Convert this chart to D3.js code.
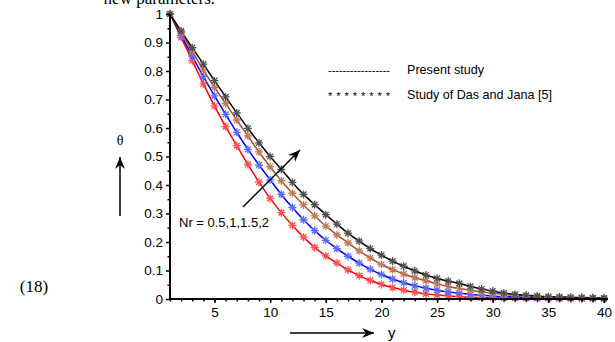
<!DOCTYPE html>
<html>
<head>
<meta charset="utf-8">
<script src="https://cdn.jsdelivr.net/npm/d3@7"></script>
<style>
  body { margin: 0; background: #fff; }
  text { font-family: "Liberation Sans", Arial, sans-serif; }
</style>
</head>
<body>
<script>
// y positions (x axis)
var posY = [1,2,3,4,5,6,7,8,9,10,11,12,13,14,15,16,17,18,19,20,
            21,22,23,24,25,26,27,28,29,30,31,32,33,34,35,36,37,38,39,40]

// theta for Nr = 0.5, 1, 1.5, 2
var thetaRed = [1,0.918,0.836,0.755,0.677,0.605,0.538,0.472,0.41,0.353,0.303,0.258,0.217,0.181,0.151,0.126,0.102,0.082,0.065,0.051,
                0.04,0.031,0.024,0.018,0.014,0.011,0.008,0.006,0.005,0.004,0.003,0.003,0.002,0.002,0.002,0.001,0.001,0.001,0.001,0.001]
var thetaBlue = [1,0.925,0.852,0.78,0.713,0.648,0.585,0.525,0.47,0.418,0.367,0.321,0.278,0.24,0.206,0.177,0.15,0.126,0.104,0.086,
                 0.07,0.057,0.046,0.038,0.031,0.025,0.02,0.016,0.013,0.01,0.008,0.007,0.005,0.004,0.004,0.003,0.003,0.002,0.002,0.002]
var thetaBrown = [1,0.935,0.869,0.803,0.743,0.686,0.628,0.572,0.516,0.464,0.415,0.371,0.33,0.292,0.256,0.225,0.197,0.169,0.144,0.121,
                  0.103,0.088,0.075,0.064,0.053,0.044,0.037,0.031,0.025,0.02,0.016,0.013,0.011,0.009,0.007,0.006,0.005,0.004,0.003,0.003]
var thetaBlack = [1,0.94,0.882,0.824,0.766,0.709,0.653,0.599,0.548,0.5,0.455,0.409,0.367,0.331,0.296,0.263,0.231,0.203,0.177,0.154,
                  0.133,0.115,0.099,0.084,0.072,0.063,0.055,0.044,0.035,0.028,0.021,0.016,0.013,0.01,0.008,0.007,0.006,0.005,0.004,0.003]

var seriesNames = ["Nr=0.5", "Nr=1", "Nr=1.5", "Nr=2"]
var lineColors = ["#ff0000", "#0000ff", "#a0522d", "#000000"]
var starColors = ["#ff5050", "#5a6cff", "#c07a5a", "#505050"]

var xMajorTicks = [5,10,15,20,25,30,35,40]
var yMajorTicks = [0,0.1,0.2,0.3,0.4,0.5,0.6,0.7,0.8,0.9,1]
var yMinorTicks = [0.05,0.15,0.25,0.35,0.45,0.55,0.65,0.75,0.85,0.95]

var legendLabels = ["Present study", "Study of Das and Jana [5]"]
var curveLabel = "Nr = 0.5,1,1.5,2"

var width = 615
var height = 342

var series = [thetaRed, thetaBlue, thetaBrown, thetaBlack].map(function(vals, i) {
    return { name: seriesNames[i], color: lineColors[i], star: starColors[i],
             points: posY.map(function(y, j) { return { y: y, t: vals[j] } }) }
})

var escalaX = d3.scaleLinear().domain([1, 40]).range([170, 604])
var escalaY = d3.scaleLinear().domain([0, 1]).range([299, 14])

var svg = d3.select("body")
    .append("svg")
    .attr("width", width)
    .attr("height", height)

// arrow head
svg.append("defs").append("marker")
    .attr("id", "flecha")
    .attr("viewBox", "-12 -6 14 12")
    .attr("refX", 0).attr("refY", 0)
    .attr("markerWidth", 14).attr("markerHeight", 12)
    .attr("markerUnits", "userSpaceOnUse")
    .attr("orient", "auto")
    .append("path")
    .attr("d", "M0,0 L-12,-5 L-8,0 L-12,5 Z")
    .attr("fill", "#000")

// partial text of the page above
svg.append("text")
    .attr("x", 215).attr("y", 4)
    .attr("text-anchor", "end")
    .style("font-family", "'Liberation Serif', serif")
    .style("font-size", "17px")
    .text("new parameters.")

svg.append("text")
    .attr("x", 34).attr("y", 292)
    .attr("text-anchor", "middle")
    .style("font-family", "'Liberation Serif', serif")
    .style("font-size", "17px")
    .text("(18)")

// curves
var linea = d3.line()
    .x(d => escalaX(d.y))
    .y(d => escalaY(d.t))
    .curve(d3.curveMonotoneX)

svg.selectAll(".curva")
    .data(series)
    .enter()
    .append("path")
    .attr("class", "curva")
    .attr("d", d => linea(d.points))
    .attr("fill", "none")
    .attr("stroke", d => d.color)
    .attr("stroke-width", 1.5)

// asterisks
var asterisco = "M0,-4V4M-4,0H4M-2.9,-2.9L2.9,2.9M-2.9,2.9L2.9,-2.9"
series.forEach(function(s) {
    svg.append("g")
        .selectAll("path")
        .data(s.points)
        .enter()
        .append("path")
        .attr("transform", d => "translate(" + escalaX(d.y) + "," + escalaY(d.t) + ")")
        .attr("d", asterisco)
        .attr("fill", "none")
        .attr("stroke", s.star)
        .attr("stroke-width", 1.3)
})

// axes
var ejeY = d3.axisLeft(escalaY)
    .tickValues(yMajorTicks)
    .tickSize(4)
    .tickPadding(3)
    .tickFormat(d3.format("~g"))
var ejeYmenor = d3.axisLeft(escalaY)
    .tickValues(yMinorTicks)
    .tickSize(2.5)
    .tickFormat("")

var gy = svg.append("g").attr("transform", "translate(170,0)").call(ejeY)
svg.append("g").attr("transform", "translate(170,0)").call(ejeYmenor)
    .select(".domain").remove()

var ejeX = d3.axisBottom(escalaX)
    .tickValues(xMajorTicks)
    .tickSize(4)
    .tickPadding(4)
var ejeXmenor = d3.axisBottom(escalaX)
    .tickValues(posY)
    .tickSize(2.5)
    .tickFormat("")

var gx = svg.append("g").attr("transform", "translate(0,299)").call(ejeX)
svg.append("g").attr("transform", "translate(0,299)").call(ejeXmenor)
    .select(".domain").remove()

svg.selectAll(".domain").attr("stroke-width", 2).attr("stroke", "#000")
svg.selectAll(".tick line").attr("stroke-width", 1.5)
gx.select(".domain").attr("d", "M169,0H608")
gy.select(".domain").attr("d", "M0,300V14")
svg.selectAll(".tick text")
    .style("font-family", "'Liberation Sans', Arial, sans-serif")
    .style("font-size", "13.5px")
    .attr("fill", "#000")

// legend
svg.append("text")
    .attr("x", 328).attr("y", 74)
    .attr("textLength", 62)
    .attr("lengthAdjust", "spacing")
    .style("font-size", "11px")
    .text("-----------------")
svg.append("text")
    .attr("x", 328).attr("y", 100)
    .attr("textLength", 62)
    .attr("lengthAdjust", "spacing")
    .style("font-size", "11px")
    .text("* * * * * * * *")
svg.selectAll(".leyenda")
    .data(legendLabels)
    .enter()
    .append("text")
    .attr("class", "leyenda")
    .attr("x", 407)
    .attr("y", (d, i) => 74 + i * 25)
    .style("font-size", "12.6px")
    .text(d => d)

// theta label and arrows
svg.append("text")
    .attr("x", 120).attr("y", 145)
    .attr("text-anchor", "middle")
    .style("font-family", "'Liberation Serif', serif")
    .style("font-size", "14px")
    .text("θ")

svg.append("line")
    .attr("x1", 120).attr("y1", 216)
    .attr("x2", 120).attr("y2", 157)
    .attr("stroke", "#000").attr("stroke-width", 1.5)
    .attr("marker-end", "url(#flecha)")

svg.append("line")
    .attr("x1", 243).attr("y1", 207)
    .attr("x2", 300).attr("y2", 150)
    .attr("stroke", "#000").attr("stroke-width", 1.5)
    .attr("marker-end", "url(#flecha)")

svg.append("line")
    .attr("x1", 290).attr("y1", 333)
    .attr("x2", 374).attr("y2", 333)
    .attr("stroke", "#000").attr("stroke-width", 1.5)
    .attr("marker-end", "url(#flecha)")

svg.append("text")
    .attr("x", 388).attr("y", 338)
    .style("font-size", "15px")
    .text("y")

svg.append("text")
    .attr("x", 179).attr("y", 227)
    .style("font-size", "13px")
    .text(curveLabel)
</script>
</body>
</html>
